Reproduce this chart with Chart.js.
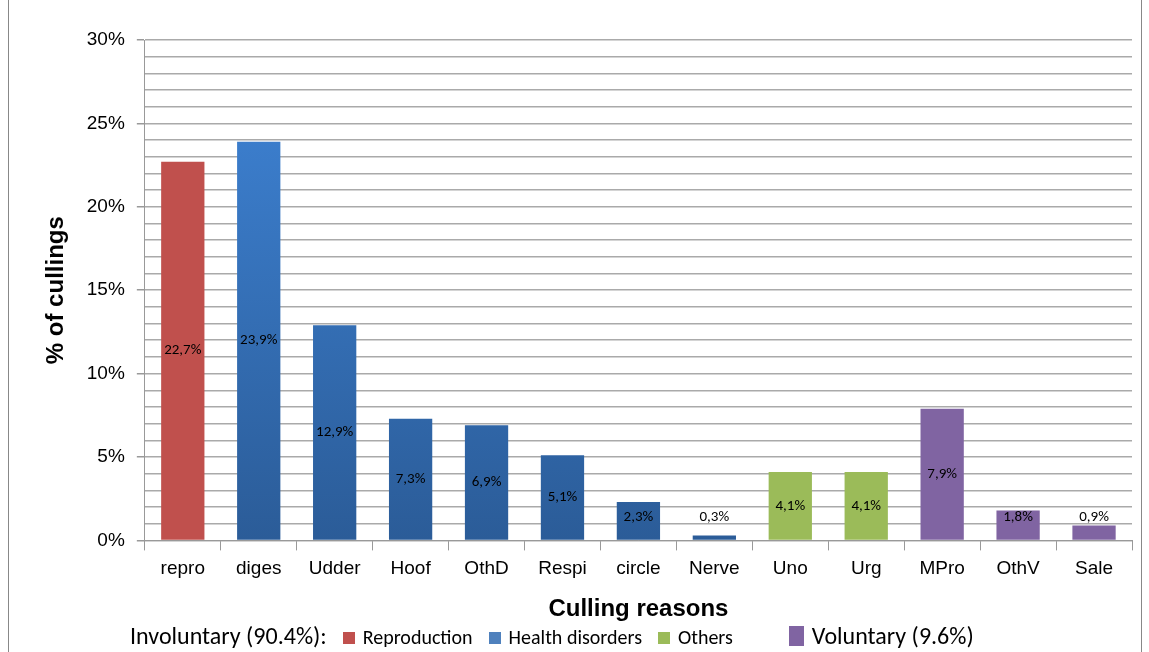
<!DOCTYPE html>
<html>
<head>
<meta charset="utf-8">
<script src="https://cdn.jsdelivr.net/npm/chart.js@4"></script>
<style>
body { margin: 0; background: #fff; font-family: Calibri, Carlito, "Liberation Sans", sans-serif; }
#wrap { position: relative; width: 1149px; height: 652px; }
#frame { position: absolute; left: 8px; top: -2px; width: 1134px; height: 660px; border: 1px solid #888; box-sizing: border-box; }
#legend { position: absolute; top: 621px; left: 130px; font-size: 24px; color: #000; white-space: nowrap; }
#legend span.sw { display: inline-block; width: 12px; height: 12px; margin: 0 8px 0 16px; vertical-align: 0px; }
#legend .s { font-size: 20px; }
</style>
</head>
<body>
<div id="wrap">
<div id="frame"></div>
<canvas id="barChart" width="1149" height="652"></canvas>
<div id="legend">Involuntary (90.4%):<span class="sw" style="background:#c0504d"></span><span class="s">Reproduction</span><span class="sw" style="background:#4f81bd"></span><span class="s">Health disorders</span><span class="sw" style="background:#9bbb59"></span><span class="s">Others</span><span class="sw" style="background:#8064a2;width:15px;height:20px;margin-left:56px;vertical-align:-2px"></span>Voluntary (9.6%)</div>
</div>
<script>
var categories = ["repro", "diges", "Udder", "Hoof", "OthD", "Respi", "circle", "Nerve", "Uno", "Urg", "MPro", "OthV", "Sale"];
var values = [22.7, 23.9, 12.9, 7.3, 6.9, 5.1, 2.3, 0.3, 4.1, 4.1, 7.9, 1.8, 0.9];
var groups = ["r", "h", "h", "h", "h", "h", "h", "h", "o", "o", "v", "v", "v"];

var ctx = document.getElementById("barChart").getContext("2d");

function barColor(context) {
    var g = groups[context.dataIndex];
    if (g === "r") return "#c0504d";
    if (g === "o") return "#9bbb59";
    if (g === "v") return "#8064a2";
    var area = context.chart.chartArea;
    if (!area) return "#3a78c8";
    var grad = ctx.createLinearGradient(0, area.top, 0, area.bottom);
    grad.addColorStop(0, "#3f85d8");
    grad.addColorStop(1, "#2b5c98");
    return grad;
}

// labels drawn in the middle of each bar
var barLabels = {
    id: "barLabels",
    afterDatasetsDraw: function (chart) {
        var c = chart.ctx;
        var meta = chart.getDatasetMeta(0);
        c.save();
        c.font = "15px Calibri, Carlito, 'Liberation Sans', sans-serif";
        c.fillStyle = "#000";
        c.textAlign = "center";
        c.textBaseline = "middle";
        meta.data.forEach(function (bar, i) {
            var y = Math.min((bar.y + bar.base) / 2, bar.base - 22);
            c.fillText(values[i].toFixed(1).replace(".", ",") + "%", bar.x, y);
        });
        c.restore();
    }
};

var barChart = new Chart(ctx, {
    type: "bar",
    data: {
        labels: categories,
        datasets: [{
            data: values,
            backgroundColor: barColor,
            barPercentage: 0.57,
            categoryPercentage: 1
        }]
    },
    options: {
        responsive: false,
        animation: false,
        layout: { padding: { top: 40, right: 17, bottom: 24, left: 38 } },
        plugins: { legend: { display: false }, tooltip: { enabled: false } },
        scales: {
            x: {
                grid: { display: true, color: "#999", offset: true, drawOnChartArea: false, tickLength: 10 },
                border: { color: "#999" },
                ticks: { color: "#000", font: { size: 19 }, padding: 7 },
                title: { display: true, text: "Culling reasons", color: "#000", font: { size: 24, weight: "bold" }, padding: { top: 8 } }
            },
            y: {
                min: 0, max: 30,
                grid: {
                    color: "#aaa",
                    tickColor: function (c) { return c.tick.value % 5 === 0 ? "#999" : "rgba(0,0,0,0)"; },
                    lineWidth: 1.5,
                    tickLength: 8
                },
                border: { color: "#999" },
                afterBuildTicks: function (axis) {
                    var t = [];
                    for (var v = 0; v <= 30; v++) t.push({ value: v });
                    axis.ticks = t;
                },
                ticks: {
                    color: "#000",
                    font: { size: 19 },
                    padding: 12,
                    autoSkip: false,
                    callback: function (v) { return v % 5 === 0 ? v + "%" : ""; }
                },
                title: { display: true, text: "% of cullings", color: "#000", font: { size: 24, weight: "bold" } }
            }
        }
    },
    plugins: [barLabels]
});
</script>
</body>
</html>
